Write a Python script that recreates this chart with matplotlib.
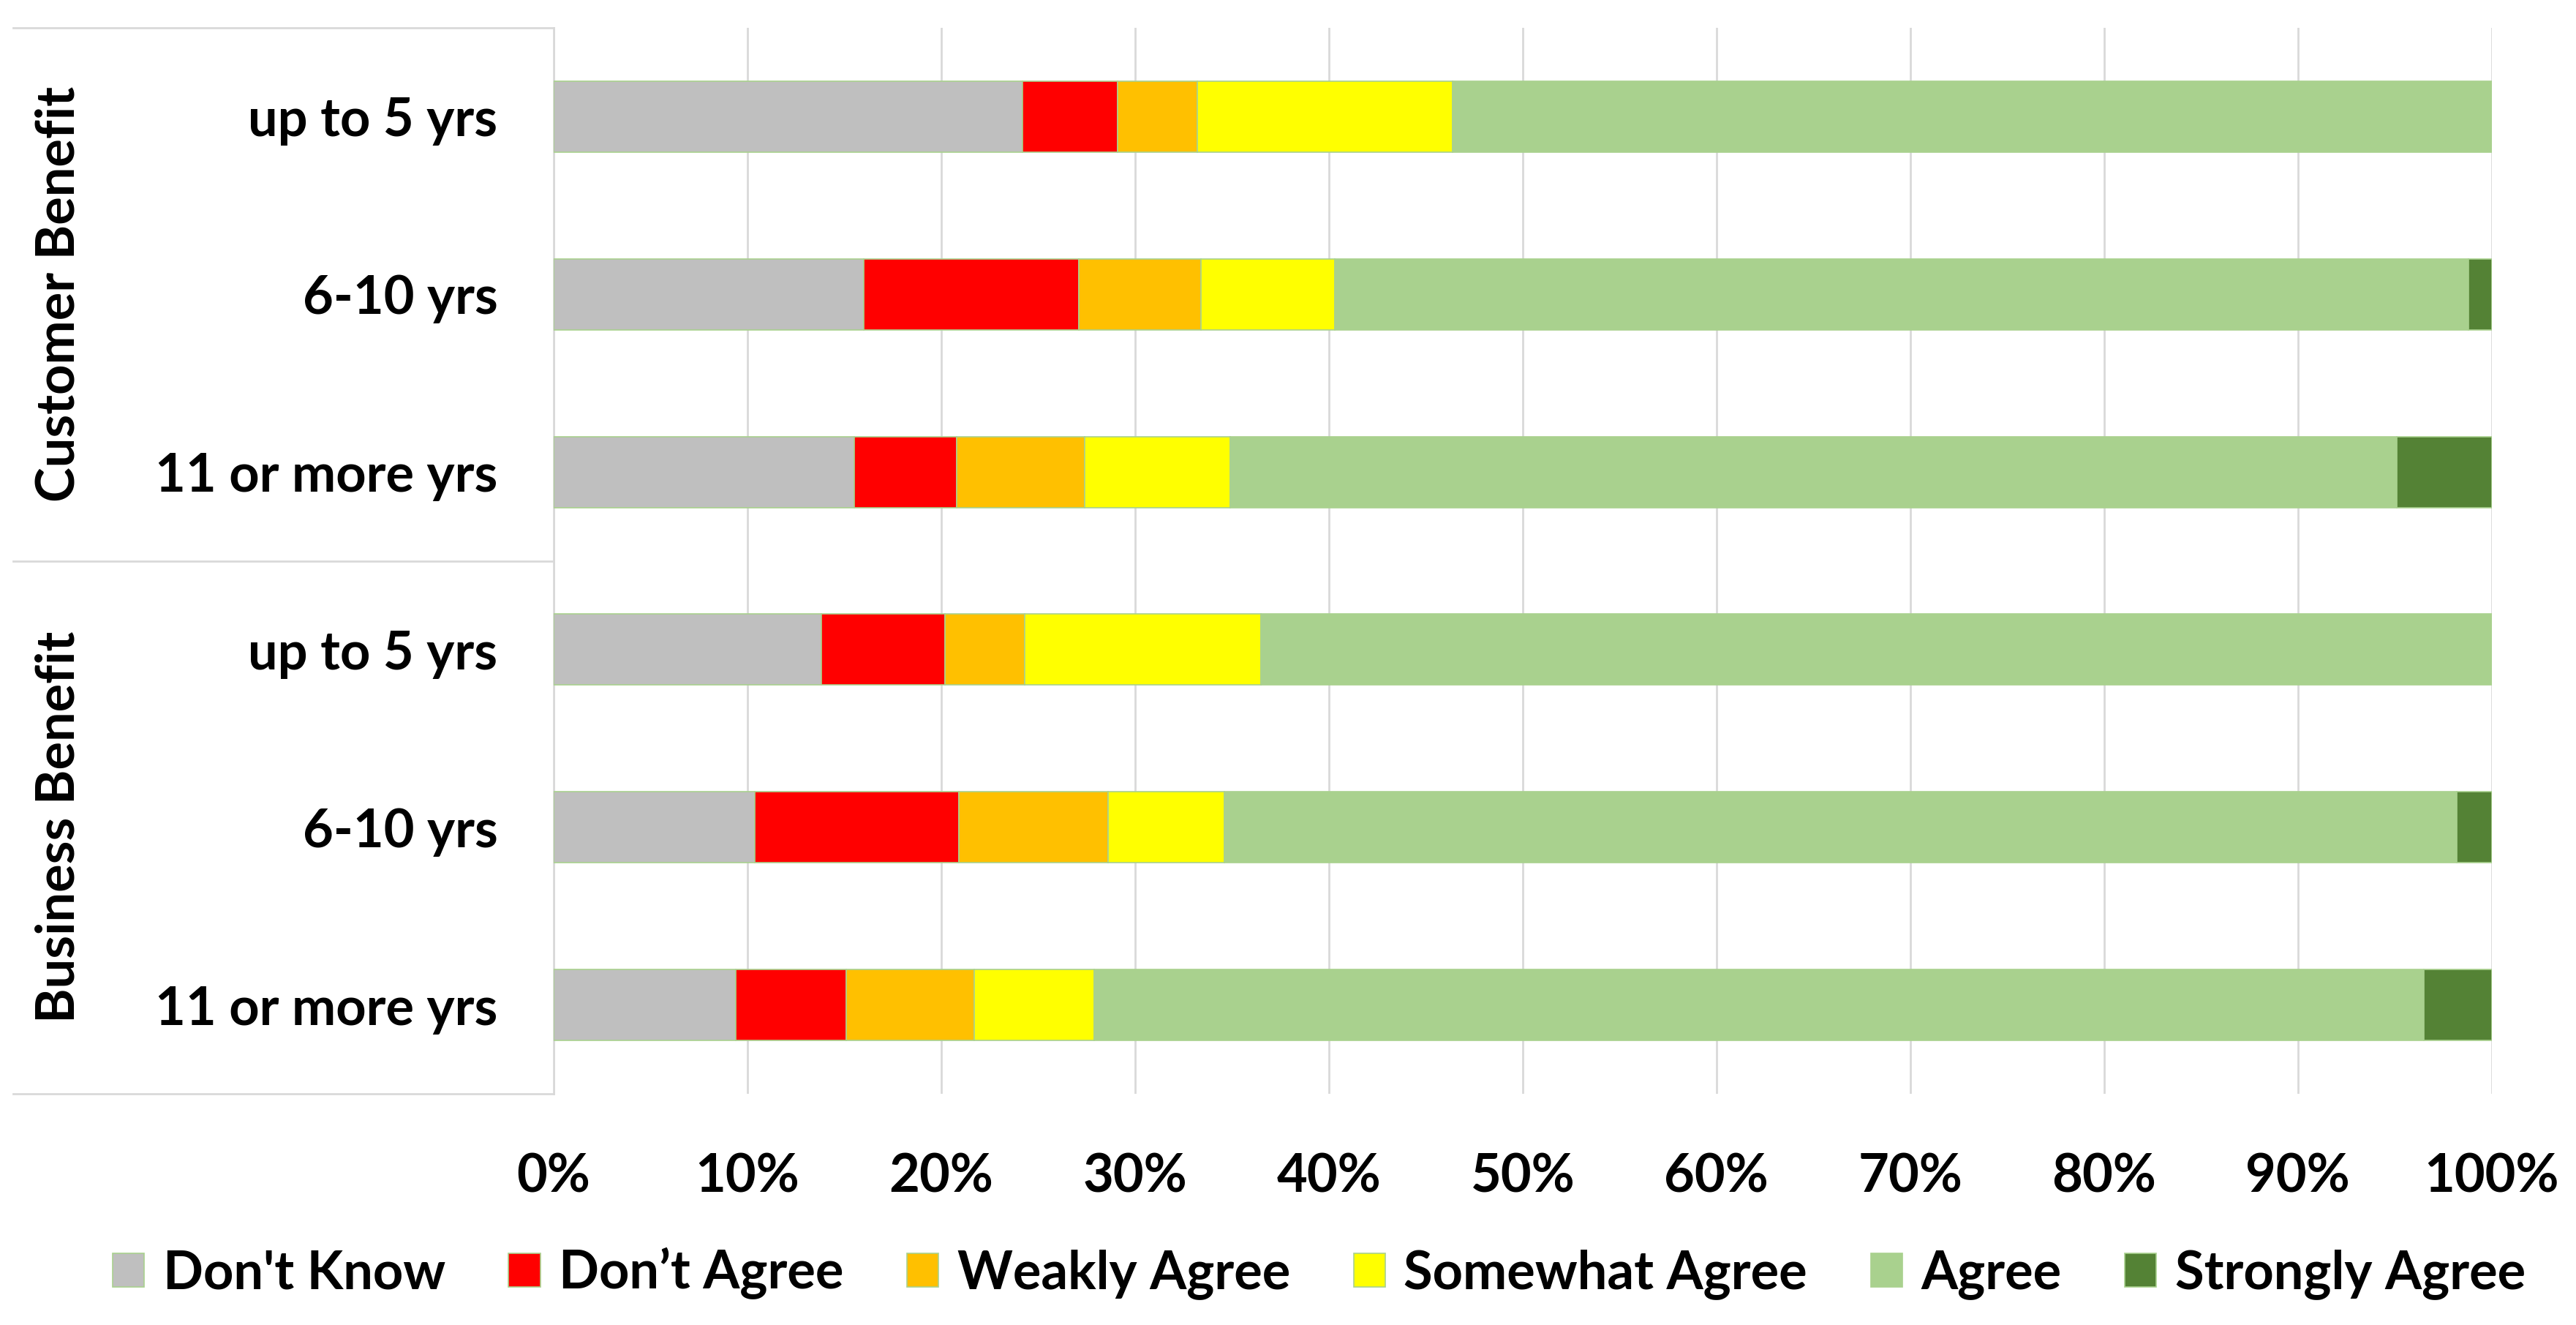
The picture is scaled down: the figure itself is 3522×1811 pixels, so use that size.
import matplotlib
matplotlib.use('Agg')
import matplotlib.pyplot as plt
import numpy as np

# rows top to bottom
row_labels = ['up to 5 yrs', '6-10 yrs', '11 or more yrs',
              'up to 5 yrs', '6-10 yrs', '11 or more yrs']
groups = ['Customer Benefit', 'Business Benefit']

categories = ["Don't Know", "Don\u2019t Agree", 'Weakly Agree',
              'Somewhat Agree', 'Agree', 'Strongly Agree']
colors = ['#BFBFBF', '#FF0000', '#FFC000', '#FFFF00', '#A9D18E', '#548235']

dont_know = [24.2, 16.0, 15.5, 13.8, 10.4, 9.4]
dont_agree = [4.9, 11.1, 5.3, 6.4, 10.5, 5.7]
weakly_agree = [4.1, 6.3, 6.6, 4.1, 7.7, 6.6]
somewhat_agree = [13.2, 6.9, 7.5, 12.2, 6.0, 6.2]
agree = [53.6, 58.5, 60.2, 63.5, 63.6, 68.6]
strongly_agree = [0.0, 1.2, 4.9, 0.0, 1.8, 3.5]

series = [dont_know, dont_agree, weakly_agree, somewhat_agree, agree, strongly_agree]

plt.rcParams['font.family'] = ['Lato', 'DejaVu Sans']
plt.rcParams['font.weight'] = 'bold'
fs = 52

fig = plt.figure(figsize=(35.22, 18.11), dpi=100)
ax = fig.add_axes([0.2149, 0.1745, 0.7524, 0.8045])

y_pos = np.arange(len(row_labels))
left = np.zeros(len(row_labels))
for vals, col, lab in zip(series, colors, categories):
    vals = np.array(vals)
    ax.barh(y_pos, vals, 0.4, left=left, color=col, edgecolor='#A9D18E',
            linewidth=1.2, label=lab, zorder=3)
    left += vals

ax.set_xlim(0, 100)
ax.set_ylim(5.5, -0.5)
ax.set_xticks(np.arange(0, 101, 10))
ax.set_xticklabels(['{}%'.format(v) for v in range(0, 101, 10)])
ax.set_yticks(y_pos)
ax.set_yticklabels(row_labels)
ax.tick_params(axis='y', length=0, pad=55, labelsize=fs)
ax.tick_params(axis='x', length=0, pad=58, labelsize=fs)
ax.grid(axis='x', color='#D9D9D9', linewidth=2, zorder=0)

for s in ['top', 'right', 'bottom']:
    ax.spines[s].set_visible(False)
ax.spines['left'].set_color('#D9D9D9')
ax.spines['left'].set_linewidth(2)

# group box lines on the left
tr = ax.get_yaxis_transform()
for yy in [-0.5, 2.5, 5.5]:
    ax.plot([-0.279, 0], [yy, yy], color='#D9D9D9', linewidth=2,
            transform=tr, clip_on=False)
for g, yc in zip(groups, [1.0, 4.0]):
    ax.text(-0.255, yc, g, transform=tr, rotation=90, ha='center',
            va='center', fontsize=fs, fontweight='bold')

ax.legend(loc='center', bbox_to_anchor=(0.512, 0.0387),
          bbox_transform=fig.transFigure, ncol=6, frameon=False,
          fontsize=fs, handlelength=0.6, handleheight=0.6,
          handletextpad=0.35, columnspacing=1.2)

plt.savefig('out.png', dpi=100)
